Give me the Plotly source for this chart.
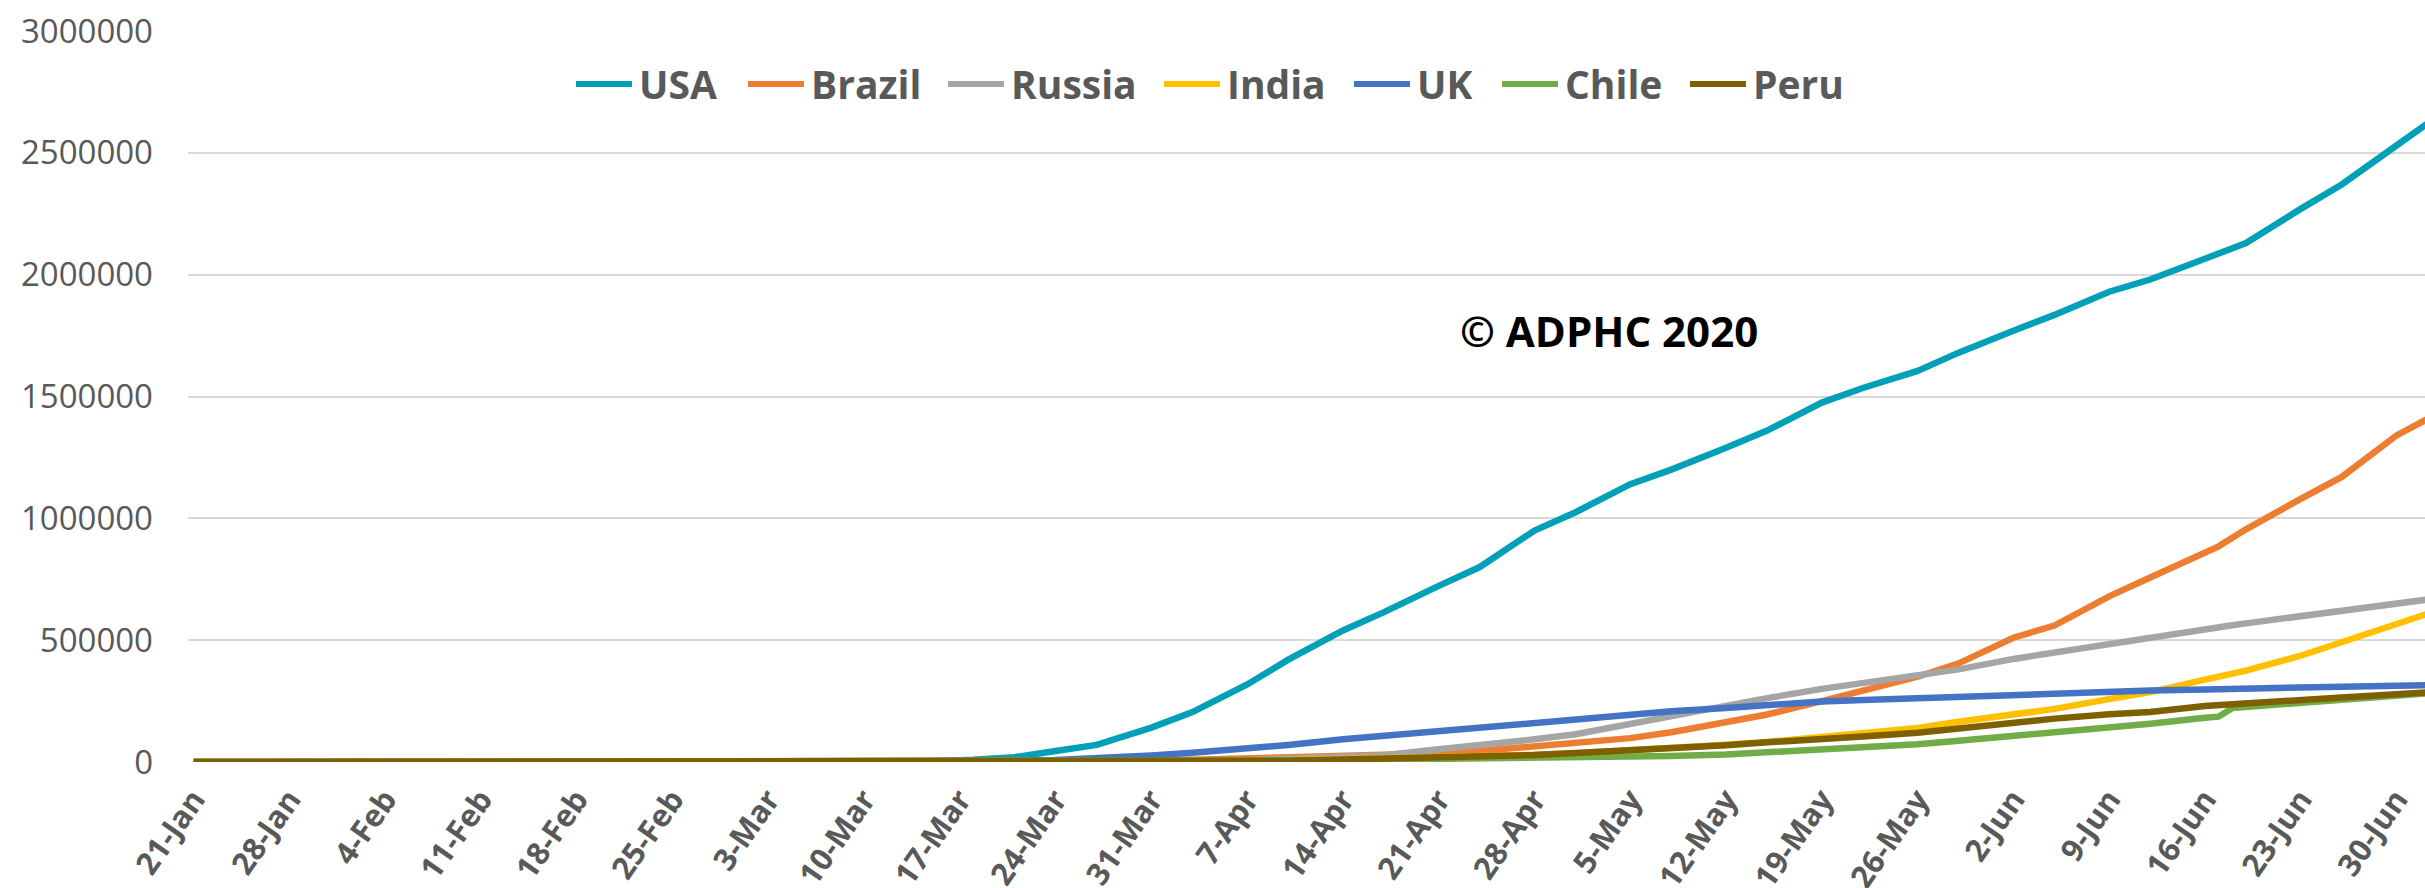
import plotly.graph_objects as go

# Cumulative confirmed cases, sampled on these dates
DATES = [
    "2020-01-21", "2020-03-01", "2020-03-15", "2020-03-18", "2020-03-21", "2020-03-24",
    "2020-03-27", "2020-03-31", "2020-04-03", "2020-04-07", "2020-04-10", "2020-04-14",
    "2020-04-17", "2020-04-21", "2020-04-24", "2020-04-28", "2020-05-01", "2020-05-05",
    "2020-05-08", "2020-05-12", "2020-05-15", "2020-05-19", "2020-05-22", "2020-05-26",
    "2020-05-29", "2020-06-02", "2020-06-05", "2020-06-09", "2020-06-12", "2020-06-16",
    "2020-06-17", "2020-06-18", "2020-06-19", "2020-06-23", "2020-06-26", "2020-06-30",
    "2020-07-03",
]

USA = [0, 30, 3000, 9000, 20000, 45000, 70000, 141000, 205000, 318000, 420000, 540000,
       615000, 723000, 800000, 950000, 1025000, 1140000, 1200000, 1290000, 1360000, 1475000,
       1535000, 1605000, 1680000, 1770000, 1835000, 1930000, 1980000, 2065000, 2085000,
       2105000, 2130000, 2270000, 2370000, 2530000, 2650000]
BRAZIL = [0, 0, 0, 300, 900, 2000, 3400, 5700, 9000, 14000, 18000, 25000, 30000, 36000,
          45000, 66000, 78000, 98000, 122000, 165000, 195000, 250000, 295000, 350000, 405000,
          510000, 560000, 680000, 757000, 860000, 885000, 920000, 955000, 1080000, 1170000,
          1340000, 1430000]
RUSSIA = [0, 0, 60, 150, 300, 500, 1000, 2300, 4100, 7500, 12000, 21000, 28000, 52000,
          68000, 93000, 114000, 157000, 190000, 232000, 262000, 300000, 326000, 355000,
          380000, 423000, 450000, 485000, 511000, 545000, 553000, 561000, 569000, 600000,
          622000, 650000, 672000]
INDIA = [0, 0, 100, 150, 300, 500, 700, 1400, 2500, 5000, 7000, 11000, 13500, 19000, 24000,
         30000, 36000, 47000, 57000, 71000, 82000, 104000, 118000, 140000, 165000, 195000,
         218000, 258000, 287000, 338000, 350000, 362000, 375000, 436000, 492000, 567000,
         622000]
UK = [0, 30, 1400, 2600, 5000, 8000, 14500, 27000, 38000, 55000, 70000, 93000, 108000,
      124000, 140000, 158000, 172000, 193000, 208000, 222000, 235000, 248000, 254000, 262000,
      270000, 278000, 284000, 289000, 293000, 298000, 299000, 300000, 301000, 306000, 309000,
      313000, 316000]
CHILE = [0, 0, 60, 240, 500, 900, 1600, 2700, 3700, 5000, 6500, 7900, 9300, 10800, 12300,
         14900, 17000, 22000, 25000, 31000, 39000, 49000, 57000, 73000, 87000, 106000, 122000,
         143000, 157000, 182000, 186000, 222000, 226000, 246000, 260000, 276000, 285000]
PERU = [0, 0, 0, 100, 300, 400, 600, 1000, 1600, 2500, 5000, 10000, 13500, 17800, 21600,
        28700, 36900, 47400, 58500, 68800, 80600, 92000, 105000, 120000, 138000, 162000,
        178000, 196000, 205000, 230000, 234000, 238000, 241000, 254000, 265000, 278000, 288000]

NAMES = ["USA", "Brazil", "Russia", "India", "UK", "Chile", "Peru"]
SERIES = [USA, BRAZIL, RUSSIA, INDIA, UK, CHILE, PERU]
COLORS = ["#00A0B8", "#ED7D31", "#A5A5A5", "#FFC000", "#4472C4", "#70AD47", "#7F6000"]

Y_TICKS = [0, 500000, 1000000, 1500000, 2000000, 2500000, 3000000]

W, H = 2425, 888
L, R, T, B = 188, 0, 31, 126
PW, PH = W - L - R, H - T - B

FONT = "Open Sans"
GREY = "#595959"


def px_to_paper(x, y):
    return (x - L) / PW, (H - B - y) / PH


fig = go.Figure()
for name, vals, col in zip(NAMES, SERIES, COLORS):
    fig.add_trace(go.Scatter(
        x=DATES, y=vals, name=name, mode="lines",
        line=dict(color=col, width=6.5),
        showlegend=False, hoverinfo="x+y+name",
    ))

# Legend row along the top of the plot: swatch line + bold label
LEGEND_TEXT_X = [637, 809, 1009, 1225, 1415, 1563, 1751]
LEGEND_Y = 84
for name, col, tx in zip(NAMES, COLORS, LEGEND_TEXT_X):
    x0, y0 = px_to_paper(tx - 61, LEGEND_Y)
    x1, _ = px_to_paper(tx - 5, LEGEND_Y)
    fig.add_shape(type="line", xref="paper", yref="paper", x0=x0, x1=x1, y0=y0, y1=y0,
                  line=dict(color=col, width=6))
    ax, ay = px_to_paper(tx, LEGEND_Y)
    fig.add_annotation(xref="paper", yref="paper", x=ax, y=ay, text=name, showarrow=False,
                       xanchor="left", yanchor="middle",
                       font=dict(family=FONT, size=39, color=GREY, weight="bold"))

# Copyright mark
wx, wy = px_to_paper(1609, 330)
fig.add_annotation(xref="paper", yref="paper", x=wx, y=wy, text="© ADPHC 2020",
                   showarrow=False, xanchor="center", yanchor="middle",
                   font=dict(family=FONT, size=42, color="#000000", weight="bold"))

fig.update_layout(
    width=W, height=H,
    margin=dict(l=L, r=R, t=T, b=B, pad=0, autoexpand=False),
    paper_bgcolor="white", plot_bgcolor="white",
    font=dict(family=FONT, color=GREY),
)
fig.update_xaxes(
    type="date", automargin=False,
    range=["2020-01-20 14:00", "2020-07-02 02:00"],
    tick0="2020-01-21", dtick=7 * 86400000, tickformat="%-d-%b",
    tickangle=-55, tickfont=dict(family=FONT, size=31, color=GREY, weight="bold"),
    ticklabelstandoff=12,
    showgrid=False, zeroline=False, showline=False, ticks="",
)
fig.update_yaxes(
    automargin=False,
    range=[0, 3000000], tickvals=Y_TICKS, tickformat="d",
    tickfont=dict(family=FONT, size=33, color=GREY),
    showgrid=True, gridcolor="#D9D9D9", gridwidth=2,
    zeroline=False, showline=False, ticks="", ticklabelstandoff=34,
)

fig.write_html("out.html")
